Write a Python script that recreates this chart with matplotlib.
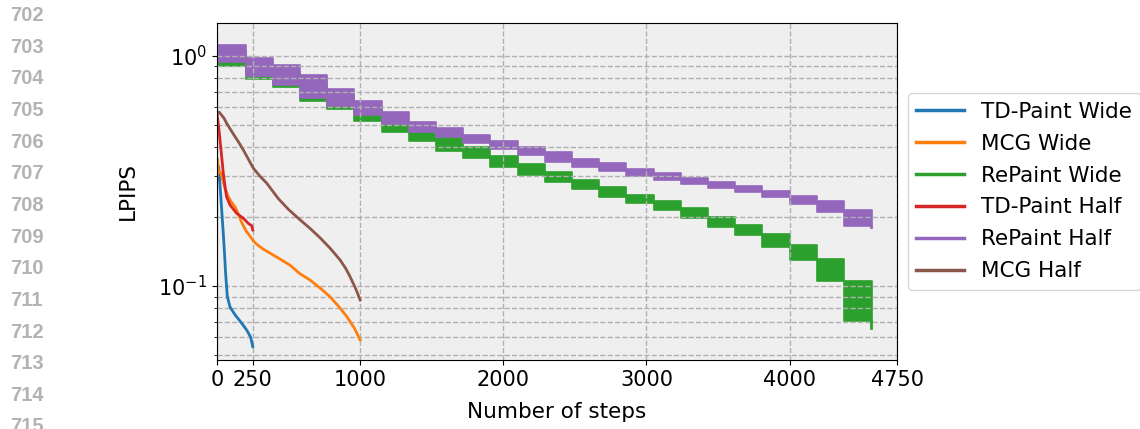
import numpy as np
import matplotlib
matplotlib.use("Agg")
import matplotlib.pyplot as plt
from matplotlib.lines import Line2D

# smooth curves (steps, LPIPS)
td_wide_x = [0, 12, 20, 28, 36, 44, 52, 60, 72, 91, 126, 172, 207, 235, 250]
td_wide_y = [0.29, 0.33, 0.28, 0.237, 0.20, 0.169, 0.14, 0.114, 0.09, 0.081, 0.075, 0.069, 0.0644, 0.060, 0.0545]

mcg_wide_x = [0, 4, 10, 21, 33, 56, 79, 100, 126, 150, 172, 207, 230, 254, 277, 320, 370, 440,
              510, 580, 650, 720, 789, 850, 906, 960, 1000]
mcg_wide_y = [0.30, 0.355, 0.31, 0.314, 0.30, 0.266, 0.244, 0.232, 0.221, 0.205, 0.189, 0.172, 0.165,
              0.157, 0.152, 0.145, 0.139, 0.131, 0.1232, 0.113, 0.1062, 0.098, 0.0899, 0.0815, 0.0738,
              0.0655, 0.0583]

td_half_x = [0, 5, 15, 28, 44, 58, 67, 91, 137, 184, 219, 242, 250]
td_half_y = [0.56, 0.53, 0.47, 0.39, 0.31, 0.265, 0.244, 0.225, 0.207, 0.197, 0.187, 0.183, 0.175]

mcg_half_x = [0, 15, 35, 50, 67, 95, 126, 155, 184, 220, 254, 300, 347, 428, 500, 580, 650, 720,
              790, 859, 900, 929, 970, 1000]
mcg_half_y = [0.56, 0.57, 0.55, 0.535, 0.51, 0.478, 0.446, 0.418, 0.39, 0.355, 0.325, 0.30, 0.28,
              0.24, 0.215, 0.194, 0.178, 0.162, 0.146, 0.130, 0.119, 0.110, 0.097, 0.087]

# RePaint runs: noisy staircase, kept as band (low/high) per resampling segment
seg_edges = [0, 200, 390, 580, 770, 960, 1150, 1340, 1530, 1720, 1910, 2100, 2290,
             2480, 2670, 2860, 3050, 3240, 3430, 3620, 3810, 4000, 4190, 4380, 4575]
repaint_half_low = [0.94, 0.82, 0.745, 0.655, 0.605, 0.555, 0.505, 0.465, 0.443, 0.417, 0.393, 0.371,
                    0.347, 0.33, 0.316, 0.30, 0.289, 0.277, 0.266, 0.255, 0.243, 0.227, 0.209, 0.183]
repaint_half_high = [1.12, 0.98, 0.91, 0.825, 0.72, 0.635, 0.57, 0.518, 0.488, 0.454, 0.427, 0.40,
                     0.381, 0.357, 0.344, 0.323, 0.311, 0.296, 0.284, 0.271, 0.259, 0.246, 0.233, 0.215]
repaint_wide_low = [0.90, 0.79, 0.73, 0.64, 0.59, 0.52, 0.465, 0.425, 0.388, 0.36, 0.33, 0.305,
                    0.284, 0.263, 0.244, 0.229, 0.214, 0.197, 0.181, 0.167, 0.148, 0.130, 0.105, 0.0707]
repaint_wide_high = [1.05, 0.92, 0.85, 0.77, 0.68, 0.60, 0.51, 0.47, 0.438, 0.40, 0.368, 0.339,
                     0.314, 0.29, 0.269, 0.249, 0.233, 0.218, 0.20, 0.184, 0.168, 0.151, 0.131, 0.105]
repaint_wide_end = 0.0656
repaint_half_end = 0.181

labels = ["TD-Paint Wide", "MCG Wide", "RePaint Wide", "TD-Paint Half", "RePaint Half", "MCG Half"]
colors = ["#1f77b4", "#ff7f0e", "#2ca02c", "#d62728", "#9467bd", "#8c564b"]
xticks = [0, 250, 1000, 2000, 3000, 4000, 4750]
line_numbers = list(range(702, 716))

fs = 15
fig = plt.figure(figsize=(11.4, 4.29), dpi=100)
ax = fig.add_axes([217 / 1140, 1 - 360 / 429, 680 / 1140, 337 / 429])
ax.set_facecolor("#efefef")


def band(low, high, end, color):
    lo = np.r_[low, low[-1]]
    hi = np.r_[high, high[-1]]
    ax.fill_between(seg_edges, lo, hi, step="post", color=color, edgecolor=color, linewidth=1.2)
    # the last sample dips below the band
    ax.plot([seg_edges[-1] - 5, seg_edges[-1] - 5], [low[-1], end], color=color, lw=2)


ax.plot(td_wide_x, td_wide_y, color=colors[0], lw=2)
ax.plot(mcg_wide_x, mcg_wide_y, color=colors[1], lw=2)
band(repaint_wide_low, repaint_wide_high, repaint_wide_end, colors[2])
ax.plot(td_half_x, td_half_y, color=colors[3], lw=2)
band(repaint_half_low, repaint_half_high, repaint_half_end, colors[4])
ax.plot(mcg_half_x, mcg_half_y, color=colors[5], lw=2)

ax.set_yscale("log")
ax.set_xlim(0, 4750)
ax.set_ylim(0.0477, 1.39)
ax.set_xticks(xticks)
ax.set_xticklabels([str(t) for t in xticks])
ax.tick_params(labelsize=fs)
ax.grid(True, which="both", linestyle="--", color="#b0b0b0", linewidth=1.0)
ax.set_xlabel("Number of steps", fontsize=15.5, labelpad=9)
ax.set_ylabel("LPIPS", fontsize=15.5, labelpad=15)

handles = [Line2D([0], [0], color=c, lw=2.5) for c in colors]
ax.legend(handles, labels, loc="center left", bbox_to_anchor=(1.016, 0.5), borderaxespad=0,
          fontsize=15.5, handlelength=2.2, labelspacing=0.55, frameon=True, edgecolor="#cccccc")

# paper line numbers in the left margin
for i, n in enumerate(line_numbers):
    y = 15.5 + i * 31.65
    fig.text(10 / 1140, 1 - y / 429, str(n), fontsize=14.5, fontweight="bold",
             family="Liberation Sans", color="#b3b3b3", va="center", ha="left")

fig.savefig("out.png", dpi=100)
